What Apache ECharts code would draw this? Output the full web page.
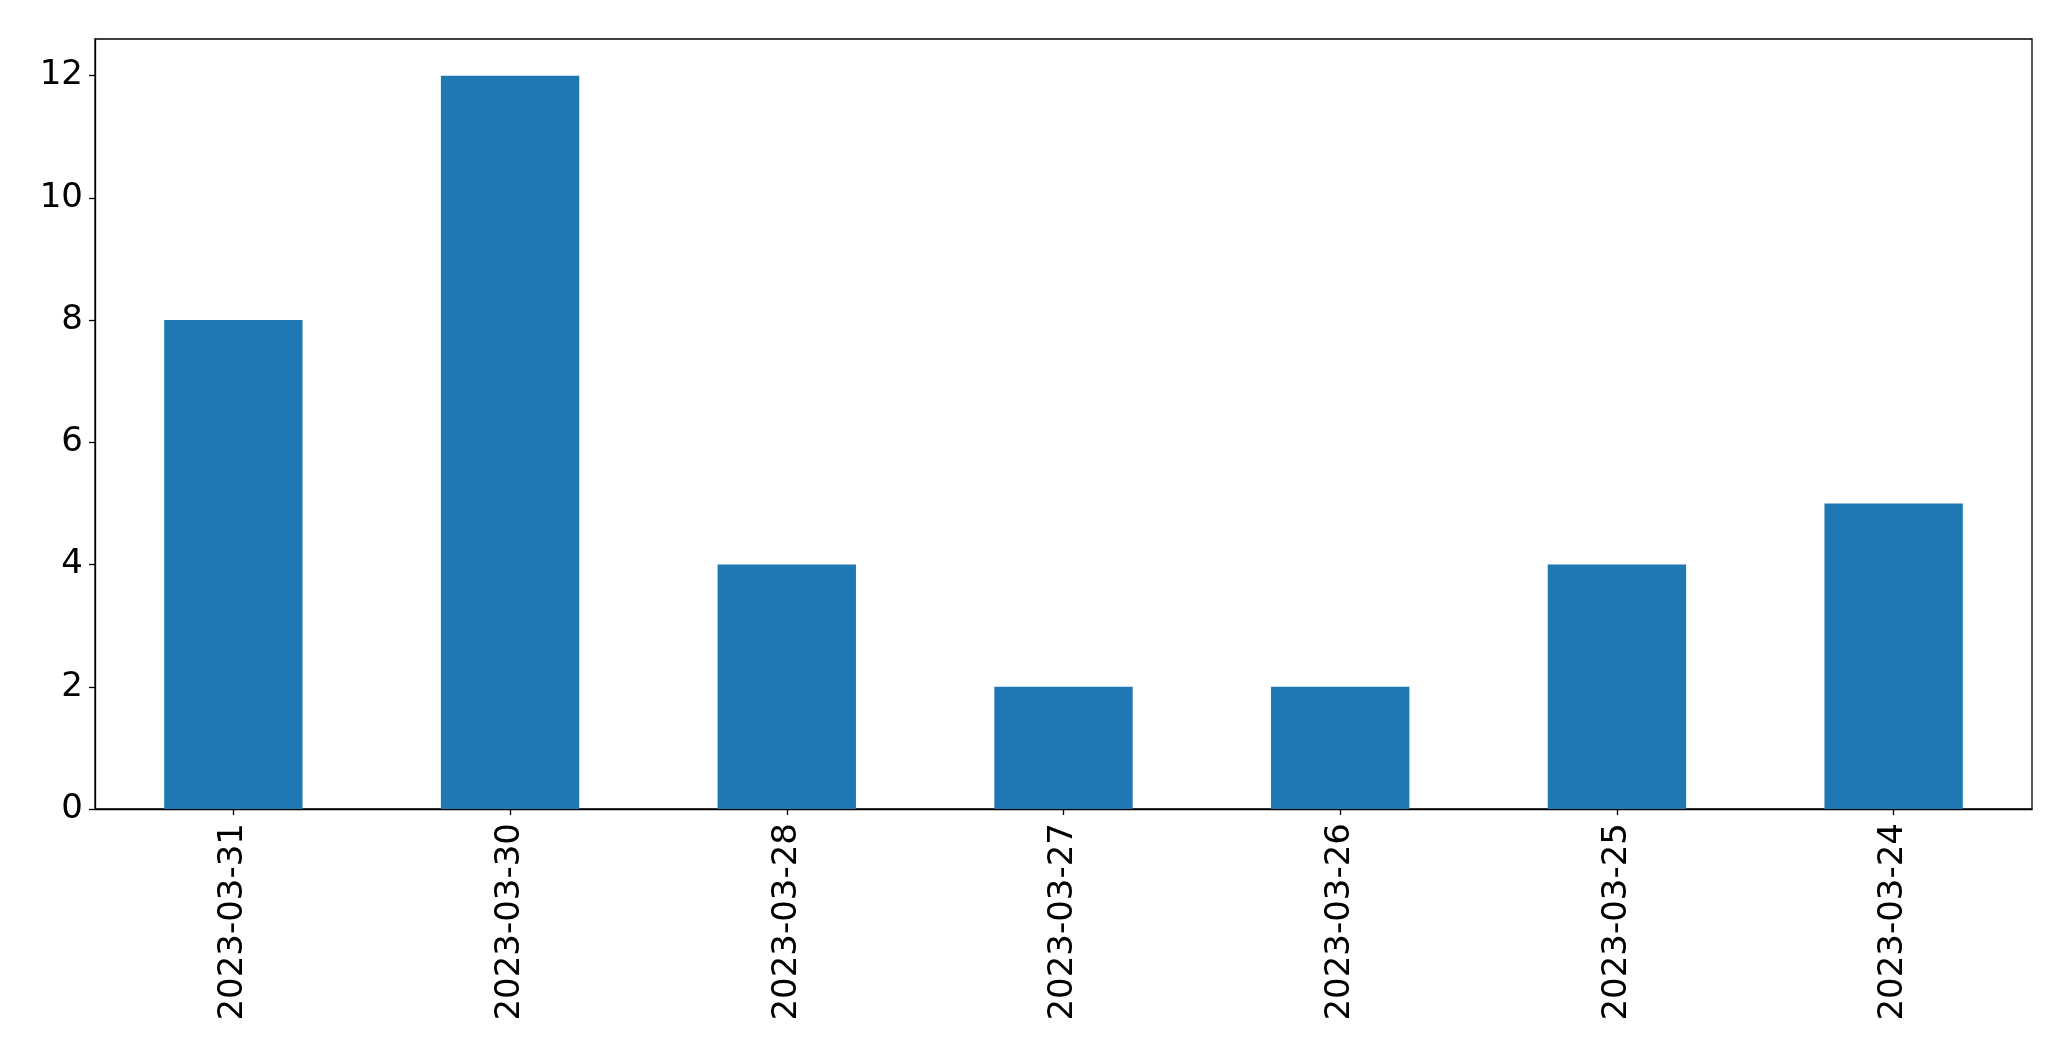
<!DOCTYPE html>
<html><head><meta charset="utf-8">
<script src="https://cdn.jsdelivr.net/npm/echarts@6/dist/echarts.min.js"></script>
<style>html,body{margin:0;padding:0;background:#fff}#c{width:2071px;height:1061px}</style>
</head><body><div id="c"></div>
<script>
const categories = ["2023-03-31","2023-03-30","2023-03-28","2023-03-27","2023-03-26","2023-03-25","2023-03-24"];
const values = [8, 12, 4, 2, 2, 4, 5];
const yTicks = [0, 2, 4, 6, 8, 10, 12];

const chart = echarts.init(document.getElementById('c'), null, {renderer: 'canvas'});
chart.setOption({
  animation: false,
  backgroundColor: '#ffffff',
  grid: {left: 95, right: 39, top: 39, bottom: 252, show: true, borderColor: '#000', borderWidth: 1.3, backgroundColor: 'transparent'},
  xAxis: {
    type: 'category',
    data: categories,
    axisLine: {show: true, lineStyle: {color: '#000', width: 1.3}},
    axisTick: {show: true, alignWithLabel: true, length: 6, lineStyle: {color: '#000', width: 1.3}},
    axisLabel: {rotate: 90, margin: 14, fontSize: 34, color: '#000', fontFamily: 'DejaVu Sans', interval: 0},
    splitLine: {show: false}
  },
  yAxis: {
    type: 'value',
    min: 0, max: 12.6, interval: 2,
    axisLine: {show: true, lineStyle: {color: '#000', width: 1.3}},
    axisTick: {show: true, length: 6, customValues: yTicks, lineStyle: {color: '#000', width: 1.3}},
    axisLabel: {margin: 12, fontSize: 34, color: '#000', fontFamily: 'DejaVu Sans', customValues: yTicks},
    splitLine: {show: false}
  },
  series: [{
    type: 'bar',
    data: values,
    barWidth: '50%',
    itemStyle: {color: '#1f77b4'}
  }]
});
</script></body></html>
